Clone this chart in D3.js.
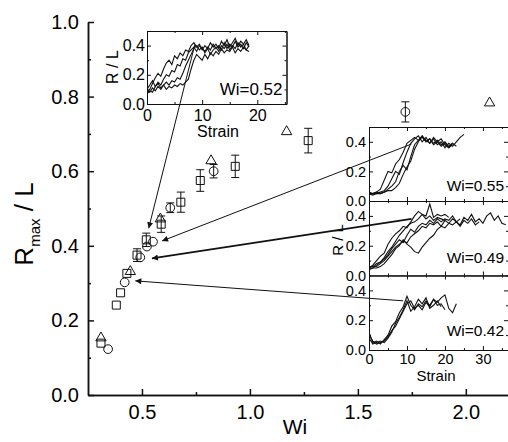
<!DOCTYPE html>
<html>
<head>
<meta charset="utf-8">
<script src="https://cdn.jsdelivr.net/npm/d3@7"></script>
<style>
body { margin: 0; background: #fff; }
text { font-family: "Liberation Sans", Arial, sans-serif; fill: #000; }
</style>
</head>
<body>
<svg id="chart" width="508" height="442"></svg>
<script>
// main plot ticks
const wiTicks = [0.5, 1.0, 1.5, 2.0];
const wiMinor = [0.75, 1.25, 1.75];
const rTicks = [0, 0.2, 0.4, 0.6, 0.8, 1.0];
const rMinor = [0.1, 0.3, 0.5, 0.7, 0.9];

// [Wi, Rmax/L, error]
const squares = [
    [0.31, 0.139, 0], [0.381, 0.241, 0], [0.401, 0.274, 0], [0.43, 0.326, 0],
    [0.477, 0.375, 0.017], [0.52, 0.416, 0.018], [0.589, 0.458, 0.022],
    [0.68, 0.517, 0.027], [0.77, 0.575, 0.029], [0.932, 0.613, 0.03], [1.27, 0.682, 0.033]
];
const circles = [
    [0.343, 0.123, 0], [0.42, 0.302, 0], [0.492, 0.369, 0], [0.523, 0.398, 0],
    [0.551, 0.411, 0], [0.631, 0.502, 0.013], [0.832, 0.60, 0.018], [1.72, 0.759, 0.027]
];
const triangles = [
    [0.31, 0.153], [0.446, 0.331], [0.585, 0.472], [0.82, 0.628], [1.17, 0.706], [2.11, 0.783]
];

// inset traces, R/L sampled every step of strain
const insetStep = 0.5;
const wi052 = [
    [0.08,0.10,0.14,0.18,0.21,0.19,0.24,0.28,0.30,0.27,0.33,0.31,0.35,0.33,0.37,0.36,0.40,0.42,0.39,0.41,0.37,0.40,0.38,0.42,0.39,0.41,0.38,0.43,0.40,0.44,0.39,0.42,0.45,0.40,0.43,0.41,0.44,0.40],
    [0.07,0.09,0.08,0.12,0.15,0.13,0.17,0.20,0.19,0.23,0.22,0.27,0.26,0.31,0.30,0.35,0.37,0.39,0.36,0.40,0.38,0.36,0.39,0.37,0.41,0.38,0.40,0.37,0.42,0.38,0.41,0.39,0.43,0.39,0.41,0.38,0.42,0.39],
    [0.09,0.08,0.11,0.09,0.12,0.10,0.13,0.15,0.13,0.16,0.15,0.18,0.17,0.21,0.26,0.30,0.34,0.38,0.40,0.37,0.39,0.35,0.38,0.34,0.37,0.39,0.36,0.40,0.38,0.41,0.37,0.40,0.38,0.42,0.39,0.41,0.37,0.40],
    [0.10,0.13,0.16,0.12,0.14,0.11,0.13,0.10,0.12,0.11,0.13,0.12,0.14,0.13,0.15,0.17,0.24,0.30,0.34,0.32,0.30,0.34,0.31,0.35,0.33,0.36,0.34,0.38,0.35,0.37,0.36,0.39,0.35,0.38,0.36,0.39,0.37,0.36]
];
const panelStep = 1;
const wi055 = [
    [0.05,0.05,0.06,0.08,0.14,0.20,0.19,0.25,0.28,0.33,0.39,0.41,0.43,0.41,0.44,0.40,0.42,0.39,0.41,0.38,0.40,0.37,0.39],
    [0.04,0.05,0.05,0.06,0.07,0.10,0.15,0.20,0.18,0.26,0.33,0.39,0.42,0.44,0.40,0.43,0.39,0.42,0.38,0.40,0.36,0.39,0.37,0.40,0.43,0.45],
    [0.06,0.05,0.06,0.05,0.06,0.08,0.10,0.13,0.20,0.24,0.21,0.30,0.38,0.41,0.43,0.40,0.42,0.38,0.40,0.37,0.39,0.36,0.38],
    [0.05,0.04,0.05,0.05,0.06,0.07,0.07,0.09,0.12,0.18,0.23,0.27,0.35,0.40,0.44,0.41,0.39,0.43,0.40,0.42,0.38,0.36,0.39,0.37]
];
const wi049 = [
    [0.05,0.07,0.10,0.13,0.15,0.21,0.25,0.28,0.30,0.33,0.32,0.36,0.40,0.43,0.41,0.38,0.40,0.37,0.39,0.38,0.37],
    [0.04,0.05,0.07,0.09,0.12,0.16,0.19,0.23,0.27,0.30,0.33,0.35,0.36,0.38,0.41,0.40,0.48,0.39,0.41,0.40,0.41,0.39],
    [0.05,0.06,0.06,0.08,0.10,0.13,0.16,0.19,0.21,0.23,0.22,0.26,0.28,0.30,0.33,0.32,0.35,0.34,0.36,0.33,0.37,0.35,0.38,0.36,0.34,0.39,0.37,0.41,0.36,0.38,0.35,0.40,0.42,0.37,0.40,0.35,0.34],
    [0.04,0.05,0.05,0.06,0.08,0.11,0.14,0.18,0.20,0.24,0.21,0.19,0.16,0.15,0.19,0.22,0.25,0.27,0.31,0.33,0.32,0.35,0.34,0.36,0.33,0.37,0.35,0.38,0.34,0.36],
    [0.06,0.06,0.08,0.09,0.11,0.14,0.18,0.21,0.24,0.22,0.27,0.31,0.29,0.33,0.35,0.34,0.37,0.35,0.38,0.36,0.38,0.37,0.40,0.36,0.38]
];
const wi042 = [
    [0.12,0.05,0.06,0.04,0.07,0.10,0.16,0.19,0.25,0.29,0.36,0.30,0.27,0.31,0.29,0.33,0.30,0.34,0.32,0.35,0.37,0.28,0.25,0.31],
    [0.08,0.04,0.05,0.06,0.05,0.08,0.12,0.18,0.22,0.27,0.33,0.26,0.29,0.34,0.31,0.35,0.28,0.30,0.33,0.29],
    [0.10,0.06,0.04,0.05,0.06,0.09,0.13,0.16,0.21,0.26,0.31,0.33,0.28,0.30,0.27,0.32,0.29,0.34,0.30,0.31,0.27]
];
const strainTicks = [0, 10, 20, 30];
const strainMinor = [5, 15, 25, 35];
const insetR = [0, 0.2, 0.4];
const insetRMinor = [0.1, 0.3, 0.5];

const svg = d3.select("#chart");
const ink = "#111";

svg.append("defs").append("marker")
    .attr("id", "head")
    .attr("viewBox", "0 0 10 10")
    .attr("refX", 10).attr("refY", 5)
    .attr("markerWidth", 9).attr("markerHeight", 6)
    .attr("markerUnits", "userSpaceOnUse")
    .attr("orient", "auto")
    .append("path").attr("d", "M0,0L10,5L0,10z").attr("fill", ink);

// ---- main plot
const x = d3.scaleLinear().domain([0.25, 2.2]).range([88, 509]);
const y = d3.scaleLinear().domain([0, 1]).range([395, 22]);

function styleAxis(g) {
    g.selectAll("path, line").attr("stroke", ink).attr("stroke-width", 1.5);
}

svg.append("g").attr("transform", "translate(0,395)")
    .call(d3.axisBottom(x).tickValues(wiMinor).tickSize(-3).tickSizeOuter(0).tickFormat(""))
    .call(styleAxis);
svg.append("g").attr("transform", "translate(0,395)")
    .call(d3.axisBottom(x).tickValues(wiTicks).tickSize(-6).tickSizeOuter(0).tickPadding(10).tickFormat(d3.format(".1f")))
    .call(styleAxis)
    .selectAll("text").attr("font-size", 20);
svg.append("g").attr("transform", "translate(88,0)")
    .call(d3.axisLeft(y).tickValues(rMinor).tickSize(-3).tickSizeOuter(0).tickFormat(""))
    .call(styleAxis);
svg.append("g").attr("transform", "translate(88,0)")
    .call(d3.axisLeft(y).tickValues(rTicks).tickSize(-6).tickSizeOuter(0).tickPadding(9).tickFormat(d3.format(".1f")))
    .call(styleAxis)
    .selectAll("text").attr("font-size", 20);

svg.append("text").attr("x", 295).attr("y", 434).attr("text-anchor", "middle")
    .attr("font-size", 21).text("Wi");
const yl = svg.append("text").attr("transform", "translate(33,224) rotate(-90)")
    .attr("text-anchor", "middle").attr("font-size", 26);
yl.append("tspan").text("R");
yl.append("tspan").attr("font-size", 15).attr("dy", 7).text("max");
yl.append("tspan").attr("dy", -7).text(" / L");

// error bars
const errs = squares.concat(circles).filter(d => d[2] > 0);
const eb = svg.append("g").attr("stroke", ink).attr("stroke-width", 1);
errs.forEach(d => {
    const cx = x(d[0]);
    eb.append("line").attr("x1", cx).attr("x2", cx).attr("y1", y(d[1] - d[2])).attr("y2", y(d[1] + d[2]));
    [d[1] - d[2], d[1] + d[2]].forEach(v => {
        eb.append("line").attr("x1", cx - 4).attr("x2", cx + 4).attr("y1", y(v)).attr("y2", y(v));
    });
});

function drawSymbols(data, type, size) {
    svg.append("g").selectAll("path").data(data).enter().append("path")
        .attr("transform", d => `translate(${x(d[0])},${y(d[1])})`)
        .attr("d", d3.symbol().type(type).size(size))
        .attr("fill", "none").attr("stroke", ink).attr("stroke-width", 1);
}
drawSymbols(squares, d3.symbolSquare, 64);
drawSymbols(circles, d3.symbolCircle, 60);
drawSymbols(triangles, d3.symbolTriangle, 46);

// ---- insets
function drawPanel(box, xDom, traces, step, opt) {
    const sx = d3.scaleLinear().domain(xDom).range([box.x0, box.x1]);
    const sy = d3.scaleLinear().domain([0, 0.5]).range([box.y1, box.y0]);
    const g = svg.append("g");
    g.append("rect").attr("x", box.x0).attr("y", box.y0)
        .attr("width", box.x1 - box.x0).attr("height", box.y1 - box.y0).attr("fill", "#fff");

    const clipId = "clip" + opt.id;
    g.append("clipPath").attr("id", clipId).append("rect")
        .attr("x", box.x0).attr("y", box.y0).attr("width", box.x1 - box.x0).attr("height", box.y1 - box.y0);
    const line = d3.line().x((d, i) => sx(i * step)).y(d => sy(d));
    g.append("g").attr("clip-path", `url(#${clipId})`)
        .selectAll("path").data(traces).enter().append("path")
        .attr("d", line).attr("fill", "none").attr("stroke", ink).attr("stroke-width", 1.1);

    const xt = strainTicks.filter(t => t <= xDom[1]);
    const xm = strainMinor.filter(t => t <= xDom[1]);
    const thin = a => a.selectAll("path, line").attr("stroke", ink).attr("stroke-width", 1);
    [[d3.axisBottom, box.y1], [d3.axisTop, box.y0]].forEach(([ax, yy], k) => {
        g.append("g").attr("transform", `translate(0,${yy})`)
            .call(ax(sx).tickValues(xm).tickSize(-2).tickSizeOuter(0).tickFormat("")).call(thin);
        const a = g.append("g").attr("transform", `translate(0,${yy})`)
            .call(ax(sx).tickValues(xt).tickSize(-4).tickSizeOuter(0).tickPadding(opt.xPad)
                .tickFormat(k === 0 && opt.xLabels ? d3.format("d") : ""))
            .call(thin);
        a.selectAll("text").attr("font-size", opt.font);
    });
    [[d3.axisLeft, box.x0], [d3.axisRight, box.x1]].forEach(([ax, xx], k) => {
        g.append("g").attr("transform", `translate(${xx},0)`)
            .call(ax(sy).tickValues(insetRMinor).tickSize(-2).tickSizeOuter(0).tickFormat("")).call(thin);
        const a = g.append("g").attr("transform", `translate(${xx},0)`)
            .call(ax(sy).tickValues(insetR).tickSize(-4).tickSizeOuter(0).tickPadding(opt.yPad)
                .tickFormat(k === 0 ? d3.format(".1f") : ""))
            .call(thin);
        a.selectAll("text").attr("font-size", opt.font);
    });
    g.append("text").attr("x", box.x1 - 4).attr("y", opt.wiY).attr("text-anchor", "end")
        .attr("font-size", opt.font + 1).text(opt.wi);
    return { sx, sy };
}

const inset = drawPanel({ x0: 147, x1: 286.5, y0: 31, y1: 104 }, [0, 25.3], wi052, insetStep,
    { id: 0, font: 16, xPad: 6, yPad: 2, xLabels: true, wi: "Wi=0.52", wiY: 95 });
svg.append("text").attr("transform", "translate(118,67) rotate(-90)").attr("text-anchor", "middle")
    .attr("font-size", 16).text("R / L");
svg.append("text").attr("x", 218).attr("y", 137).attr("text-anchor", "middle")
    .attr("font-size", 16).text("Strain");

const pDom = [0, 36.6];
const p1 = drawPanel({ x0: 369, x1: 508, y0: 127, y1: 201 }, pDom, wi055, panelStep,
    { id: 1, font: 14.5, xPad: 3, yPad: 3, xLabels: false, wi: "Wi=0.55", wiY: 191 });
const p2 = drawPanel({ x0: 369, x1: 508, y0: 201, y1: 275.5 }, pDom, wi049, panelStep,
    { id: 2, font: 14.5, xPad: 3, yPad: 3, xLabels: false, wi: "Wi=0.49", wiY: 263 });
const p3 = drawPanel({ x0: 369, x1: 508, y0: 275.5, y1: 350 }, pDom, wi042, panelStep,
    { id: 3, font: 14.5, xPad: 4, yPad: 3, xLabels: true, wi: "Wi=0.42", wiY: 336 });
svg.append("text").attr("transform", "translate(343,240) rotate(-90)").attr("text-anchor", "middle")
    .attr("font-size", 15).text("R / L");
svg.append("text").attr("x", 436).attr("y", 381).attr("text-anchor", "middle")
    .attr("font-size", 15).text("Strain");

// ---- arrows: [panel, strain, R/L] -> [Wi, Rmax/L]
const arrows = [
    { p: inset, s: 8.7, r: 0.41, to: [0.531, 0.447], w: 1 },
    { p: p1, s: 11.2, r: 0.385, to: [0.593, 0.413], w: 1 },
    { p: p2, s: 11.2, r: 0.38, to: [0.546, 0.366], w: 1.8 },
    { p: p3, s: 9.0, r: 0.33, to: [0.469, 0.306], w: 1 }
];
svg.append("g").selectAll("line").data(arrows).enter().append("line")
    .attr("x1", d => d.p.sx(d.s)).attr("y1", d => d.p.sy(d.r))
    .attr("x2", d => x(d.to[0])).attr("y2", d => y(d.to[1]))
    .attr("stroke", ink).attr("stroke-width", d => d.w)
    .attr("marker-end", "url(#head)");
</script>
</body>
</html>
